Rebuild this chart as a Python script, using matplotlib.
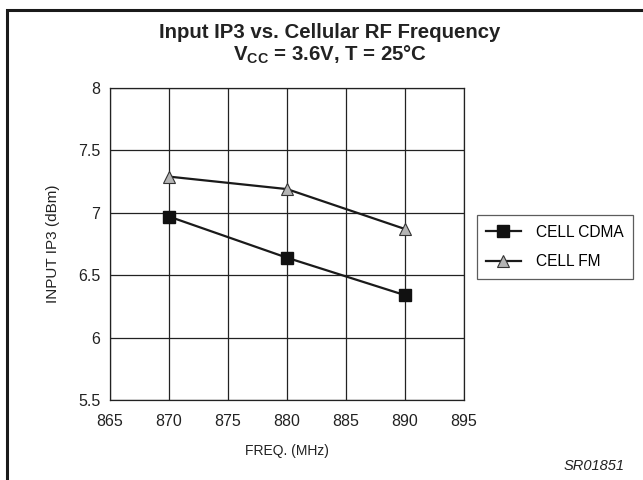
import matplotlib.pyplot as plt
from matplotlib.patches import Rectangle

plt.rcParams['font.family'] = ['Liberation Sans', 'DejaVu Sans']
plt.rcParams['mathtext.fontset'] = 'custom'
plt.rcParams['mathtext.rm'] = 'Liberation Sans'
plt.rcParams['mathtext.bf'] = 'Liberation Sans:bold'

# данные
freq = [870, 880, 890]
cdma = [6.97, 6.64, 6.34]
fm = [7.29, 7.19, 6.87]
x_ticks = [865, 870, 875, 880, 885, 890, 895]
y_ticks = [5.5, 6, 6.5, 7, 7.5, 8]
y_tick_labels = ['5.5', '6', '6.5', '7', '7.5', '8']

fig = plt.figure(figsize=(6.43, 4.80), dpi=100)
ax = fig.add_axes([110 / 643, 1 - 400 / 480, 354 / 643, 312 / 480])

ax.plot(freq, cdma, color='#1a1a1a', linewidth=1.6, marker='s', markersize=8,
        markerfacecolor='#111111', markeredgecolor='#111111', label='CELL CDMA', zorder=3)
ax.plot(freq, fm, color='#1a1a1a', linewidth=1.6, marker='^', markersize=8,
        markerfacecolor='#b4b4b4', markeredgecolor='#333333', markeredgewidth=0.8,
        label='CELL FM', zorder=3)

# оси и сетка
ax.set_xlim(865, 895)
ax.set_ylim(5.5, 8)
ax.set_xticks(x_ticks)
ax.set_yticks(y_ticks)
ax.set_yticklabels(y_tick_labels)
ax.tick_params(axis='both', length=0, labelsize=11.5, colors='#222222')
ax.tick_params(axis='x', pad=10)
ax.tick_params(axis='y', pad=7)
ax.grid(color='#222222', linewidth=0.9)
for s in ax.spines.values():
    s.set_linewidth(0.9)
    s.set_color('#222222')

ax.set_xlabel('FREQ. (MHz)', fontsize=10, labelpad=11, color='#222222')
ax.set_ylabel('INPUT IP3 (dBm)', fontsize=11, labelpad=13, color='#222222')

# заголовок
fig.text(330 / 643, 1 - 32 / 480, 'Input IP3 vs. Cellular RF Frequency', ha='center', va='center',
         fontsize=14.7, fontweight='bold', color='#222222')
fig.text(330 / 643, 1 - 55 / 480, r'V$_{\mathbf{CC}}$ = 3.6V, T = 25°C', ha='center', va='center',
         fontsize=14.7, fontweight='bold', color='#222222')

# легенда
leg = ax.legend(loc='center left', bbox_to_anchor=(477 / 643, 1 - 247 / 480),
                bbox_transform=fig.transFigure, fontsize=11.2, frameon=True,
                fancybox=False, edgecolor='#333333', borderpad=0.6, borderaxespad=0,
                handlelength=2.2, labelspacing=0.95, handletextpad=1.0)
leg.get_frame().set_linewidth(0.9)

fig.text(625 / 643, 1 - 466 / 480, 'SR01851', ha='right', va='center',
         fontsize=10.5, style='italic', color='#222222')

# рамка
fig.patches.append(Rectangle((7 / 643, -0.05), 1.1, 1 - 10 / 480 + 0.05,
                             transform=fig.transFigure, fill=False,
                             edgecolor='#1a1a1a', linewidth=2.2))

fig.savefig('out.png', dpi=100)
